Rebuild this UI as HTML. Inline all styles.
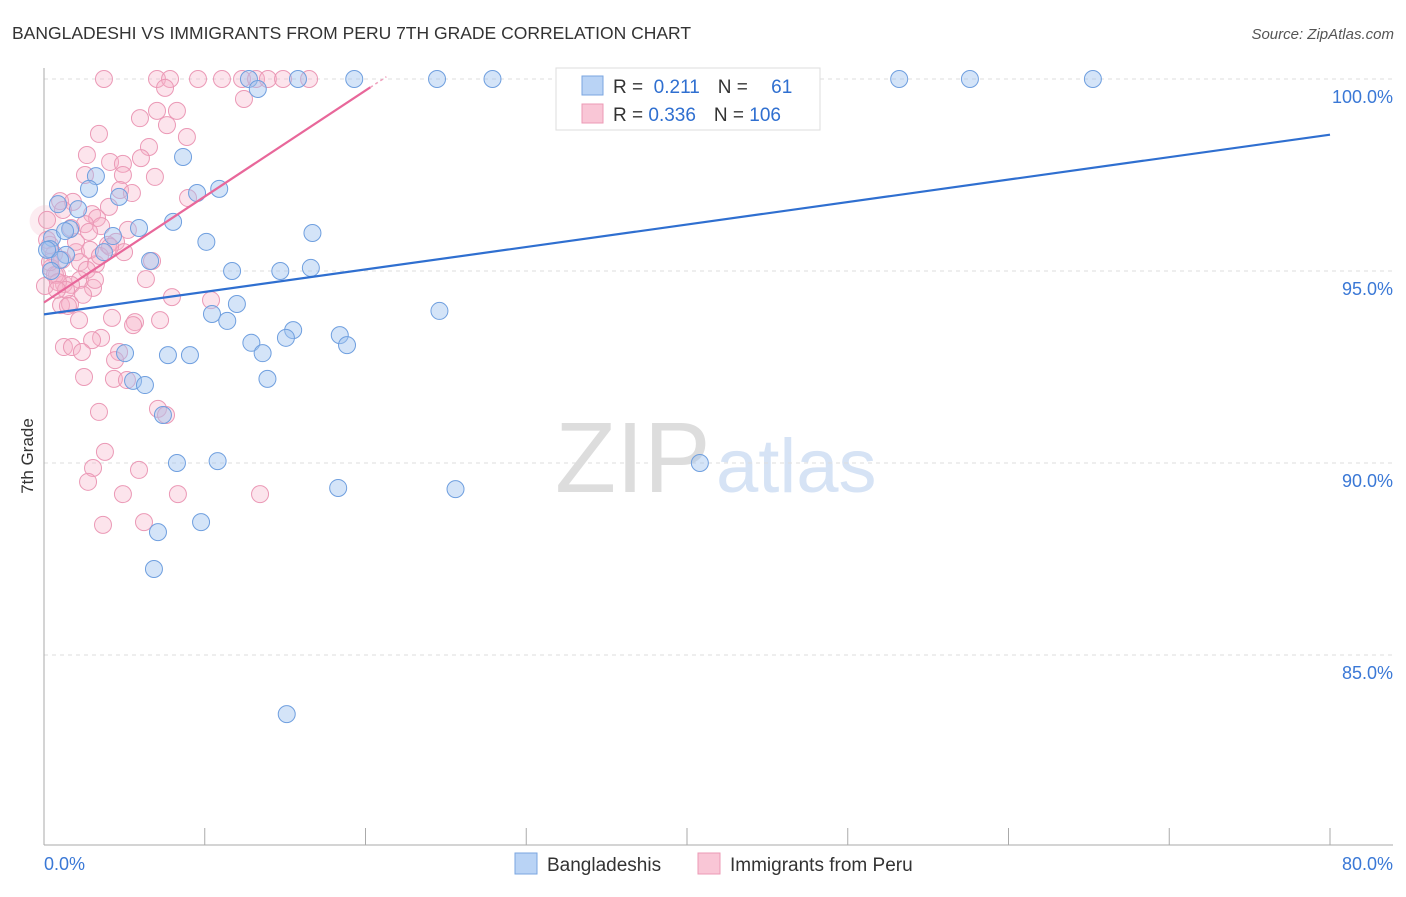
<!DOCTYPE html>
<html><head><meta charset="utf-8"><style>
body{margin:0;background:#fff;font-family:"Liberation Sans",sans-serif;}
svg text{font-family:"Liberation Sans",sans-serif;}
</style></head><body>
<svg id="chart" width="1406" height="892" xmlns="http://www.w3.org/2000/svg">
<text x="12" y="39" font-size="17.5" fill="#333">BANGLADESHI VS IMMIGRANTS FROM PERU 7TH GRADE CORRELATION CHART</text>
<text x="1394" y="39" font-size="15" fill="#555" text-anchor="end" font-style="italic">Source: ZipAtlas.com</text>
<g><text x="555" y="492" font-size="100" fill="#ddd" font-family="Liberation Serif,serif">ZIP</text><text x="716" y="492" font-size="76" fill="#d6e3f5">atlas</text></g>
<g id="grid"></g><g id="axes"></g><g id="pts"></g><g id="trend"></g>
<text transform="translate(33,456) rotate(-90)" font-size="17" fill="#333" text-anchor="middle">7th Grade</text>
<g>
<rect x="556" y="68" width="264" height="62" fill="#fff" stroke="#ddd"/>
<rect x="582" y="76" width="21" height="19" fill="#b9d3f5" stroke="#7aa6e0"/>
<rect x="582" y="104" width="21" height="19" fill="#f9c6d6" stroke="#ec9ab5"/>
<text x="613" y="93" font-size="19" fill="#333">R = <tspan fill="#2f6fd0">&#160;0.211</tspan><tspan dx="18">N = </tspan><tspan dx="18" fill="#2f6fd0">61</tspan></text>
<text x="613" y="121" font-size="19" fill="#333">R = <tspan fill="#2f6fd0">0.336</tspan><tspan dx="18">N = </tspan><tspan fill="#2f6fd0">106</tspan></text>
</g>
<g>
<rect x="515" y="853" width="22" height="21" fill="#b9d3f5" stroke="#7aa6e0"/>
<text x="547" y="871" font-size="19" fill="#333">Bangladeshis</text>
<rect x="698" y="853" width="22" height="21" fill="#f9c6d6" stroke="#ec9ab5"/>
<text x="730" y="871" font-size="19" fill="#333">Immigrants from Peru</text>
</g>
</svg>
<script>
const yTicks=[100,95,90,85];
const yTickLabels=["100.0%","95.0%","90.0%","85.0%"];
const xTicks=[0,10,20,30,40,50,60,70,80];
const blueX=[12.75,15.8,19.3,24.45,27.9,53.2,57.6,65.25,13.3,8.65,3.23,2.8,9.52,10.9,4.67,0.87,2.12,8.03,5.91,1.62,4.29,16.7,10.1,0.5,0.37,3.73,1.37,1.0,6.6,11.7,14.7,16.6,0.44,12.0,10.45,11.4,24.6,15.5,15.05,18.4,18.85,12.9,13.6,5.04,7.71,9.08,5.54,6.28,13.9,7.4,8.27,10.8,40.8,18.3,25.6,9.77,7.09,6.84,15.1,0.19,1.31];
const blueY=[100,100,100,100,100,100,100,100,99.74,97.97,97.47,97.14,97.03,97.14,96.93,96.74,96.61,96.28,96.12,96.09,95.91,95.99,95.76,95.86,95.57,95.49,95.42,95.29,95.26,95.0,95.0,95.08,95.0,94.14,93.88,93.7,93.96,93.46,93.26,93.33,93.07,93.13,92.86,92.86,92.81,92.81,92.14,92.03,92.19,91.25,90.0,90.05,90.0,89.35,89.32,88.46,88.2,87.24,83.46,95.55,96.04];
const pinkX=[3.73,7.03,7.84,9.58,11.07,12.32,13.19,13.93,14.87,16.49,7.53,12.44,7.03,8.27,5.97,7.65,3.42,8.89,6.53,2.67,6.03,4.11,4.91,2.55,4.91,6.9,4.73,5.47,8.96,1.0,1.8,1.18,4.04,2.99,3.3,5.22,3.55,2.55,4.48,3.98,4.98,0.37,0.62,1.99,1.12,2.24,3.23,6.72,0.44,0.81,2.67,2.24,1.24,6.34,1.68,3.05,7.96,10.39,1.06,1.62,2.18,4.23,5.66,7.22,5.54,1.24,1.74,3.55,2.99,2.36,4.67,4.42,2.49,4.35,5.16,3.42,7.09,7.59,3.79,3.05,5.91,2.74,4.91,8.33,13.44,3.67,6.22,0.19,0.19,0.68,0.06,0.37,0.87,1.37,1.99,2.86,3.48,1.68,4.11,2.8,1.49,0.81,2.43,3.17];
const pinkY=[100,100,100,100,100,100,100,100,100,100,99.77,99.48,99.17,99.17,98.98,98.8,98.57,98.49,98.23,98.02,97.94,97.84,97.79,97.5,97.5,97.45,97.11,97.03,96.9,96.82,96.8,96.59,96.67,96.48,96.38,96.07,96.17,96.22,95.76,95.68,95.49,95.68,95.44,95.49,95.29,95.23,95.18,95.26,95.08,94.9,95.03,94.77,94.66,94.79,94.64,94.56,94.32,94.24,94.11,94.14,93.72,93.78,93.67,93.72,93.59,93.02,93.02,93.26,93.2,92.89,92.89,92.68,92.24,92.19,92.16,91.33,91.41,91.25,90.29,89.87,89.82,89.51,89.19,89.19,89.19,88.39,88.46,96.33,95.81,94.9,94.61,95.23,94.71,94.51,95.76,95.55,95.39,96.12,95.63,96.02,94.09,94.51,94.38,94.77];
const blueTrend=[93.87,98.55];
const pinkTrend=[94.18,0.276];
const NS="http://www.w3.org/2000/svg";
const sx=v=>44+v*(1286/80);
const sy=v=>79+(100-v)*38.4;
function mk(tag,attrs,parent){const e=document.createElementNS(NS,tag);for(const k in attrs)e.setAttribute(k,attrs[k]);document.getElementById(parent).appendChild(e);return e;}
yTicks.forEach((t,i)=>{
 const l=mk('line',{x1:44,x2:1393,y1:sy(t),y2:sy(t),stroke:'#ddd','stroke-dasharray':'4,4'},'grid');
 
 
 const tx=mk('text',{x:1393,y:sy(t)+24,'font-size':18,fill:'#3a78d6','text-anchor':'end'},'grid');
 tx.textContent=yTickLabels[i];
 
 
});
const ax=mk('line',{x1:44,x2:44,y1:68,y2:845,stroke:'#aaa'},'axes');


const bx=mk('line',{x1:44,x2:1393,y1:845,y2:845,stroke:'#aaa'},'axes');


xTicks.forEach(t=>{
 const l=mk('line',{x1:sx(t),x2:sx(t),y1:828,y2:845,stroke:'#aaa'},'axes');
 
 
});
const xl0=mk('text',{x:44,y:870,'font-size':18,fill:'#3a78d6'},'axes');xl0.textContent='0.0%';


const xl1=mk('text',{x:1393,y:870,'font-size':18,fill:'#3a78d6','text-anchor':'end'},'axes');xl1.textContent='80.0%';


const big=mk('circle',{cx:sx(0.1),cy:sy(96.3),r:16,fill:'rgba(245,180,200,0.25)'},'pts');


pinkX.forEach((x,i)=>{
 const c=mk('circle',{cx:sx(x),cy:sy(pinkY[i]),r:8.5,fill:'rgba(246,178,200,0.35)',stroke:'#eb99b6','stroke-width':1},'pts');
 
 
});
blueX.forEach((x,i)=>{
 const c=mk('circle',{cx:sx(x),cy:sy(blueY[i]),r:8.5,fill:'rgba(160,195,240,0.45)',stroke:'#6f9fdf','stroke-width':1},'pts');
 
 
});
const bt=mk('line',{x1:sx(0),y1:sy(blueTrend[0]),x2:sx(80),y2:sy(blueTrend[1]),stroke:'#2f6fd0','stroke-width':2.2},'trend');


const pe=20.3;
const pt=mk('line',{x1:sx(0),y1:sy(pinkTrend[0]),x2:sx(pe),y2:sy(pinkTrend[0]+pinkTrend[1]*pe),stroke:'#e8679a','stroke-width':2.2},'trend');


const pd=mk('line',{x1:sx(pe),y1:sy(pinkTrend[0]+pinkTrend[1]*pe),x2:sx(21.3),y2:sy(pinkTrend[0]+pinkTrend[1]*21.3),stroke:'#f0a0bd','stroke-width':1.5,'stroke-dasharray':'3,3'},'trend');


</script>
</body></html>
